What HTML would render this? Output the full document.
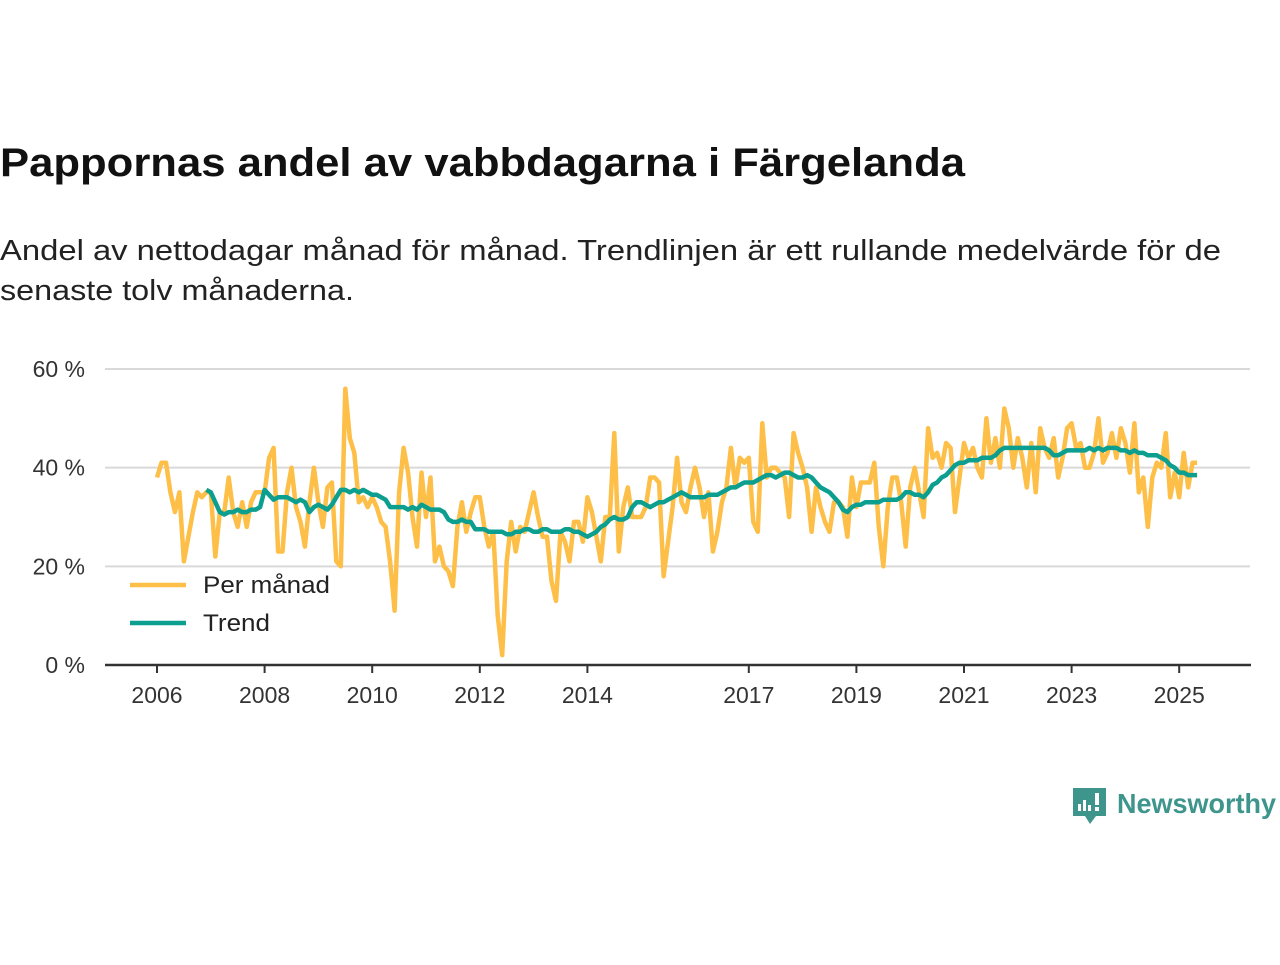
<!DOCTYPE html>
<html><head><meta charset="utf-8"><style>
body{margin:0;background:#fff;width:1280px;height:960px;overflow:hidden;font-family:"Liberation Sans","DejaVu Sans",sans-serif}
</style></head><body>
<svg width="1280" height="960" xmlns="http://www.w3.org/2000/svg" id="chart">
<text x="0" y="176" font-size="40" font-weight="bold" fill="#111" textLength="965" lengthAdjust="spacingAndGlyphs">Pappornas andel av vabbdagarna i Färgelanda</text>
<text x="0" y="260" font-size="29" fill="#222" textLength="1221" lengthAdjust="spacingAndGlyphs">Andel av nettodagar månad för månad. Trendlinjen är ett rullande medelvärde för de</text>
<text x="0" y="300" font-size="29" fill="#222" textLength="354" lengthAdjust="spacingAndGlyphs">senaste tolv månaderna.</text>
<g id="grid"></g><g id="xaxis"></g>
<g id="series"></g>
<g>
<line x1="130" y1="585" x2="186" y2="585" stroke="#FDBF47" stroke-width="4.5"/>
<text x="203" y="593" font-size="24" fill="#222" textLength="127" lengthAdjust="spacingAndGlyphs">Per månad</text>
<line x1="130" y1="623" x2="186" y2="623" stroke="#0C9E8E" stroke-width="4.5"/>
<text x="203" y="631" font-size="24" fill="#222" textLength="67" lengthAdjust="spacingAndGlyphs">Trend</text>
</g>
<g>
<path d="M1073 788h33v28h-10l-6 8l-5-8h-12z" fill="#3E958C"/>
<rect x="1078" y="804" width="3" height="7" fill="#fff"/><rect x="1083" y="800" width="3" height="11" fill="#fff"/><rect x="1088" y="805" width="3" height="6" fill="#fff"/><rect x="1095" y="793" width="4" height="12" fill="#fff"/><rect x="1095" y="807" width="4" height="4" fill="#fff"/>
<text x="1117" y="813" font-size="28" font-weight="bold" fill="#3E958C" textLength="159" lengthAdjust="spacingAndGlyphs">Newsworthy</text>
</g>
</svg>
<script>
const yTicks=[0,20,40,60];
const xTickYears=[2006,2008,2010,2012,2014,2017,2019,2021,2023,2025];
const monthly=[38,41,41,35,31,35,21,26,31,35,34,35,
35,22,31,31,38,31,28,33,28,33,35,35,
35,42,44,23,23,35,40,32,29,24,33,40,
33,28,36,37,21,20,56,46,43,33,34,32,
34,32,29,28,21,11,35,44,39,30,24,39,
30,38,21,24,20,19,16,28,33,27,31,34,
34,28,24,27,10,2,21,29,23,28,27,31,
35,30,26,26,17,13,27,25,21,29,29,25,
34,31,26,21,30,30,47,23,32,36,30,30,
30,32,38,38,37,18,25,32,42,33,31,36,
40,36,30,35,23,27,33,36,44,36,42,41,
42,29,27,49,38,40,40,39,38,30,47,43,
40,36,27,36,32,29,27,33,33,32,26,38,
32,37,37,37,41,28,20,32,38,38,33,24,
36,40,35,30,48,42,43,40,45,44,31,38,
45,42,44,40,38,50,41,46,40,52,48,40,
46,42,36,45,35,48,44,42,46,38,42,48,
49,44,45,40,40,43,50,41,43,47,42,48,
45,39,49,35,38,28,38,41,40,47,34,39,
34,43,36,41,41];
const trendStart=11;
const trend=[35.5,
35,33,31,30.5,31,31,31.5,31,31,31.5,31.5,32,
35.5,34.5,33.5,34,34,34,33.5,33,33.5,33,31,32,
32.5,32,31.5,32.5,34,35.5,35.5,35,35.5,35,35.5,35,
34.5,34.5,34,33.5,32,32,32,32,31.5,32,31.5,32.5,
32,31.5,31.5,31.5,31,29.5,29,29,29.5,29,29,27.5,
27.5,27.5,27,27,27,27,26.5,26.5,27,27,27.5,27.5,
27,27,27.5,27.5,27,27,27,27.5,27.5,27,27,26.5,
26,26.5,27,28,28.5,29.5,30,29.5,29.5,30,32,33,
33,32.5,32,32.5,33,33,33.5,34,34.5,35,34.5,34,
34,34,34,34.5,34.5,34.5,35,35.5,36,36,36.5,37,
37,37,37.5,38,38.5,38.5,38,38.5,39,39,38.5,38,
38,38.5,38,37,36,35.5,35,34,33,31.5,31,32,
32.5,32.5,33,33,33,33,33.5,33.5,33.5,33.5,34,35,
35,34.5,34.5,34,35,36.5,37,38,38.5,39.5,40.5,41,
41,41.5,41.5,41.5,42,42,42,42.5,43.5,44,44,44,
44,44,44,44,44,44,44,43.5,42.5,42.5,43,43.5,
43.5,43.5,43.5,43.5,44,43.5,44,43.5,44,44,44,43.5,
43.5,43,43.5,43,43,42.5,42.5,42.5,42,41.5,40.5,40,
39,39,38.5,38.5,38.5];
const NS='http://www.w3.org/2000/svg';
const X0=157,PXY=53.8;
function xs(i){return X0+i*PXY/12;}
function xYear(y){return X0+(y-2006)*PXY;}
function ys(v){return 665-v*(665-369)/60;}
const grid=document.getElementById('grid');
yTicks.forEach(t=>{
 if(t>0){const l=document.createElementNS(NS,'line');
 l.setAttribute('x1',105);l.setAttribute('x2',1250);l.setAttribute('y1',ys(t));l.setAttribute('y2',ys(t));
 l.setAttribute('stroke','#d9d9d9');l.setAttribute('stroke-width',2);
 
 
 grid.appendChild(l);}
 const tx=document.createElementNS(NS,'text');
 tx.setAttribute('x',85);tx.setAttribute('y',ys(t)+8);tx.setAttribute('text-anchor','end');
 tx.setAttribute('font-size',23);tx.setAttribute('fill','#333');tx.textContent=t+' %';
 
 
 grid.appendChild(tx);
});
const xa=document.getElementById('xaxis');
const ax=document.createElementNS(NS,'line');
ax.setAttribute('x1',105);ax.setAttribute('x2',1251);ax.setAttribute('y1',665);ax.setAttribute('y2',665);
ax.setAttribute('stroke','#333');ax.setAttribute('stroke-width',2.5);


xa.appendChild(ax);
xTickYears.forEach(y=>{
 const x=xYear(y);
 const tk=document.createElementNS(NS,'line');
 tk.setAttribute('x1',x);tk.setAttribute('x2',x);tk.setAttribute('y1',665);tk.setAttribute('y2',673);
 tk.setAttribute('stroke','#333');tk.setAttribute('stroke-width',2);
 
 
 xa.appendChild(tk);
 const tx=document.createElementNS(NS,'text');
 tx.setAttribute('x',x);tx.setAttribute('y',703);tx.setAttribute('text-anchor','middle');
 tx.setAttribute('font-size',23);tx.setAttribute('fill','#333');tx.textContent=y;
 
 
 xa.appendChild(tx);
});
const sg=document.getElementById('series');
function line(vals,off,color,name){
 const p=document.createElementNS(NS,'polyline');
 p.setAttribute('points',vals.map((v,i)=>xs(i+off).toFixed(1)+','+ys(v).toFixed(1)).join(' '));
 p.setAttribute('fill','none');p.setAttribute('stroke',color);p.setAttribute('stroke-width',4.5);
 p.setAttribute('stroke-linejoin','round');
 
 
 sg.appendChild(p);
}
line(monthly,0,'#FDBF47','monthly-line');
line(trend,trendStart,'#0C9E8E','trend-line');
</script>
</body></html>
